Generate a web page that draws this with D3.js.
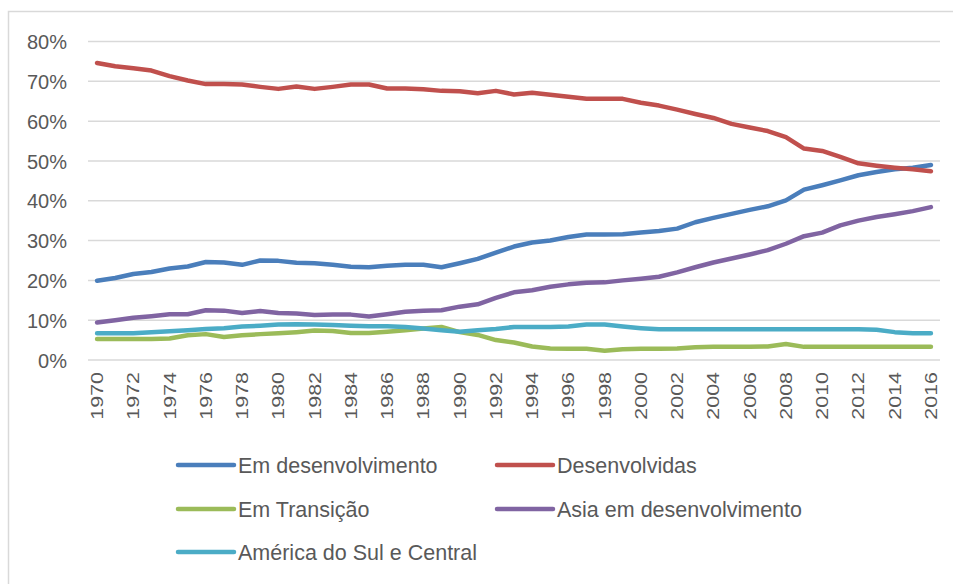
<!DOCTYPE html>
<html>
<head>
<meta charset="utf-8">
<script src="https://cdn.jsdelivr.net/npm/d3@7"></script>
<style>
  body { margin: 0; background: #fff; }
  svg { display: block; }
  text { font-family: "Liberation Sans", Arial, sans-serif; fill: #595959; }
</style>
</head>
<body>
<div id="chart"></div>
<script>
// Years on the x axis
const years = [1970, 1971, 1972, 1973, 1974, 1975, 1976, 1977, 1978, 1979,
  1980, 1981, 1982, 1983, 1984, 1985, 1986, 1987, 1988, 1989,
  1990, 1991, 1992, 1993, 1994, 1995, 1996, 1997, 1998, 1999,
  2000, 2001, 2002, 2003, 2004, 2005, 2006, 2007, 2008, 2009,
  2010, 2011, 2012, 2013, 2014, 2015, 2016];

// Shares in percent
const emDesenvolvimento = [19.9, 20.6, 21.6, 22.1, 23.0, 23.5, 24.6, 24.5, 23.9, 25.0,
  24.9, 24.4, 24.3, 23.9, 23.4, 23.3, 23.7, 23.9, 23.9, 23.3,
  24.3, 25.4, 27.0, 28.5, 29.5, 30.0, 30.9, 31.5, 31.5, 31.6,
  32.0, 32.4, 33.0, 34.6, 35.7, 36.7, 37.7, 38.6, 40.1, 42.8,
  43.9, 45.1, 46.4, 47.2, 47.9, 48.3, 49.0];
const desenvolvidas = [74.6, 73.8, 73.3, 72.7, 71.3, 70.2, 69.3, 69.3, 69.2, 68.6,
  68.1, 68.7, 68.1, 68.6, 69.2, 69.2, 68.2, 68.2, 68.0, 67.6,
  67.5, 67.0, 67.6, 66.7, 67.1, 66.6, 66.1, 65.6, 65.6, 65.6,
  64.6, 63.9, 62.9, 61.8, 60.8, 59.3, 58.4, 57.5, 56.0, 53.1,
  52.5, 51.0, 49.4, 48.8, 48.3, 47.9, 47.4];
const emTransicao = [5.3, 5.3, 5.3, 5.3, 5.4, 6.2, 6.5, 5.8, 6.2, 6.5,
  6.7, 7.0, 7.4, 7.3, 6.8, 6.8, 7.1, 7.5, 7.9, 8.3,
  7.0, 6.3, 5.0, 4.4, 3.4, 2.9, 2.8, 2.8, 2.3, 2.7,
  2.8, 2.8, 2.9, 3.2, 3.3, 3.3, 3.3, 3.4, 4.0, 3.3,
  3.3, 3.3, 3.3, 3.3, 3.3, 3.3, 3.3];
const asiaEmDesenvolvimento = [9.4, 10.0, 10.6, 11.0, 11.5, 11.5, 12.5, 12.4, 11.8, 12.3,
  11.8, 11.7, 11.3, 11.4, 11.4, 10.9, 11.5, 12.1, 12.4, 12.5,
  13.4, 14.0, 15.6, 17.0, 17.5, 18.4, 19.0, 19.4, 19.5, 20.0,
  20.4, 20.9, 22.0, 23.3, 24.5, 25.5, 26.5, 27.6, 29.2, 31.1,
  32.0, 33.8, 35.0, 35.9, 36.6, 37.4, 38.4];
const americaSulCentral = [6.7, 6.7, 6.7, 7.0, 7.2, 7.5, 7.8, 8.0, 8.4, 8.6,
  8.9, 9.0, 8.9, 8.8, 8.6, 8.5, 8.5, 8.3, 7.9, 7.5,
  7.1, 7.5, 7.8, 8.3, 8.3, 8.3, 8.4, 8.9, 8.9, 8.4,
  8.0, 7.7, 7.7, 7.7, 7.7, 7.7, 7.7, 7.7, 7.7, 7.7,
  7.7, 7.7, 7.7, 7.6, 7.0, 6.7, 6.7];

const seriesNames = ['Em desenvolvimento', 'Desenvolvidas', 'Em Transição',
  'Asia em desenvolvimento', 'América do Sul e Central'];
const seriesColors = ['#4a7ebb', '#c0504d', '#9bbb59', '#8064a2', '#4bacc6'];
const seriesValues = [emDesenvolvimento, desenvolvidas, emTransicao,
  asiaEmDesenvolvimento, americaSulCentral];
const yTicks = [0, 10, 20, 30, 40, 50, 60, 70, 80];

const width = 953, height = 584;

const svg = d3.select('#chart').append('svg')
  .attr('width', width)
  .attr('height', height);

// chart frame (only left and top edges are visible)
svg.append('rect')
  .attr('x', 8.5).attr('y', 11.5)
  .attr('width', 970).attr('height', 600)
  .attr('fill', 'none')
  .attr('stroke', '#d9d9d9')
  .attr('stroke-width', 1.5);

const x = d3.scalePoint()
  .domain(years)
  .range([88, 940])
  .padding(0.5);

const y = d3.scaleLinear()
  .domain([0, 80])
  .range([360, 41.5]);

// gridlines
svg.append('g')
  .selectAll('line')
  .data(yTicks)
  .join('line')
  .attr('x1', 88).attr('x2', 940)
  .attr('y1', d => y(d)).attr('y2', d => y(d))
  .attr('stroke', '#d9d9d9')
  .attr('stroke-width', 1.5);

// y axis labels
const yAxis = d3.axisLeft(y)
  .tickValues(yTicks)
  .tickFormat(d => d + '%')
  .tickSize(0)
  .tickPadding(0);
const gy = svg.append('g')
  .attr('transform', 'translate(67,0)')
  .call(yAxis);
gy.select('.domain').remove();
gy.selectAll('text')
  .attr('font-size', 20)
  .attr('font-family', '"Liberation Sans", Arial, sans-serif')
  .attr('fill', '#595959')
  .attr('dy', '0.36em');

// x axis labels, every second year, rotated
const xAxis = d3.axisBottom(x)
  .tickValues(years.filter((d, i) => i % 2 === 0))
  .tickSize(0)
  .tickPadding(0);
const gx = svg.append('g')
  .attr('transform', 'translate(0,372)')
  .call(xAxis);
gx.select('.domain').remove();
gx.selectAll('text')
  .attr('font-size', 16)
  .attr('font-family', '"Liberation Sans", Arial, sans-serif')
  .attr('fill', '#595959')
  .attr('text-anchor', 'end')
  .attr('dy', null)
  .attr('y', 0)
  .attr('transform', 'rotate(-90) scale(1.34,1) translate(0,5.5)');

// lines
const line = d3.line()
  .x((d, i) => x(years[i]))
  .y(d => y(d));

svg.append('g')
  .selectAll('path')
  .data(seriesValues)
  .join('path')
  .attr('d', d => line(d))
  .attr('fill', 'none')
  .attr('stroke', (d, i) => seriesColors[i])
  .attr('stroke-width', 4.5)
  .attr('stroke-linejoin', 'round')
  .attr('stroke-linecap', 'round');

// legend, two columns
const legendPos = [
  { x: 178, y: 465 }, { x: 497, y: 465 },
  { x: 178, y: 509 }, { x: 497, y: 509 },
  { x: 178, y: 552 }
];
const legend = svg.append('g')
  .selectAll('g')
  .data(seriesNames)
  .join('g')
  .attr('transform', (d, i) => `translate(${legendPos[i].x},${legendPos[i].y})`);

legend.append('line')
  .attr('x1', 0).attr('x2', 56)
  .attr('stroke', (d, i) => seriesColors[i])
  .attr('stroke-width', 4.5)
  .attr('stroke-linecap', 'round');

legend.append('text')
  .attr('x', 60)
  .attr('dy', '0.35em')
  .attr('font-size', 21.5)
  .attr('fill', '#595959')
  .text(d => d);
</script>
</body>
</html>
